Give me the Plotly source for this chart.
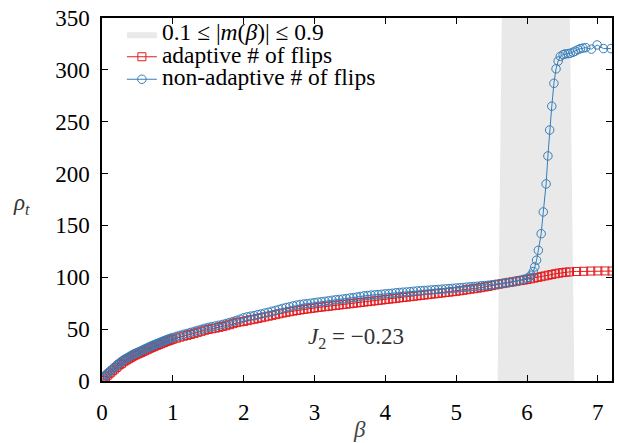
import plotly.graph_objects as go

# ---------------- data ----------------
beta_common = [
    0.0, 0.025, 0.05, 0.075, 0.1, 0.125, 0.15, 0.175, 0.2, 0.225,
    0.25, 0.275, 0.3, 0.325, 0.35, 0.375, 0.4, 0.425, 0.45, 0.475,
    0.5, 0.525, 0.55, 0.575, 0.6, 0.625, 0.65, 0.675, 0.7, 0.725,
    0.75, 0.775, 0.8, 0.825, 0.85, 0.875, 0.9, 0.925, 0.95, 0.975,
    1.0, 1.05, 1.1, 1.15, 1.2, 1.25, 1.3, 1.35, 1.4, 1.45,
    1.5, 1.55, 1.6, 1.65, 1.7, 1.75, 1.8, 1.85, 1.9, 1.95,
    2.0, 2.05, 2.1, 2.15, 2.2, 2.25, 2.3, 2.35, 2.4, 2.45,
    2.5, 2.55, 2.6, 2.65, 2.7, 2.75, 2.8, 2.85, 2.9, 2.95,
    3.0, 3.05, 3.1, 3.15, 3.2, 3.25, 3.3, 3.35, 3.4, 3.45,
    3.5, 3.55, 3.6, 3.65, 3.7, 3.75, 3.8, 3.85, 3.9, 3.95,
    4.0, 4.05, 4.1, 4.15, 4.2, 4.25, 4.3, 4.35, 4.4, 4.45,
    4.5, 4.55, 4.6, 4.65, 4.7, 4.75, 4.8, 4.85, 4.9, 4.95,
    5.0, 5.05, 5.1, 5.15, 5.2, 5.25, 5.3, 5.35, 5.4, 5.45,
    5.5, 5.55, 5.6, 5.65, 5.7, 5.75, 5.8, 5.85, 5.9, 5.95,
    6.0,
]

rho_nonadaptive_common = [
    1.5, 3.5, 5.5, 7.0, 8.5, 10.0, 11.5, 13.0, 14.5, 16.0,
    17.5, 18.5, 20.0, 21.0, 22.0, 23.0, 24.0, 25.0, 26.0, 26.8,
    27.5, 28.3, 29.1, 29.9, 30.7, 31.5, 32.3, 33.1, 33.9, 34.6,
    35.3, 36.0, 36.7, 37.4, 38.1, 38.8, 39.5, 40.1, 40.7, 41.3,
    41.9, 43.0, 44.0, 45.0, 45.8, 46.8, 47.8, 48.8, 49.8, 50.8,
    51.6, 52.4, 53.0, 53.7, 54.5, 55.4, 56.4, 57.4, 58.5, 59.6,
    61.0, 61.8, 62.5, 63.0, 64.0, 64.6, 65.5, 66.3, 67.2, 68.0,
    69.0, 70.0, 70.8, 71.5, 72.4, 73.2, 73.8, 74.2, 74.6, 75.0,
    75.5, 76.0, 76.4, 76.8, 77.3, 77.8, 78.3, 78.6, 79.0, 79.5,
    80.0, 80.4, 80.9, 81.5, 82.1, 82.4, 82.8, 83.0, 83.3, 83.6,
    84.0, 84.3, 84.6, 85.0, 85.3, 85.6, 85.8, 86.1, 86.5, 86.8,
    87.0, 87.3, 87.5, 87.8, 88.0, 88.3, 88.5, 88.8, 89.0, 89.3,
    89.6, 89.9, 90.2, 90.5, 90.8, 91.1, 91.4, 91.7, 92.0, 92.3,
    92.7, 93.1, 93.5, 94.0, 94.5, 95.0, 95.6, 96.3, 97.0, 98.0,
    99.0,
]

rho_adaptive_common = [
    0.5, 2.0, 4.0, 5.5, 7.0, 8.5, 10.0, 11.5, 13.0, 14.5,
    16.0, 17.0, 18.5, 19.5, 20.5, 21.5, 22.5, 23.5, 24.5, 25.3,
    26.0, 26.8, 27.6, 28.4, 29.2, 30.0, 30.8, 31.6, 32.4, 33.1,
    33.8, 34.5, 35.2, 35.9, 36.6, 37.3, 38.0, 38.6, 39.2, 39.8,
    40.4, 41.3, 42.3, 43.2, 44.0, 44.9, 45.9, 46.9, 47.9, 48.9,
    49.7, 50.4, 51.0, 51.7, 52.5, 53.3, 54.3, 55.3, 56.3, 57.0,
    57.5, 58.2, 59.0, 59.6, 60.4, 61.0, 61.8, 62.5, 63.3, 64.0,
    64.8, 65.5, 66.2, 66.8, 67.4, 68.0, 68.5, 69.0, 69.5, 70.0,
    70.4, 70.9, 71.3, 71.7, 72.1, 72.5, 72.9, 73.3, 73.7, 74.1,
    74.5, 74.9, 75.3, 75.7, 76.1, 76.5, 76.9, 77.3, 77.7, 78.1,
    78.5, 78.9, 79.3, 79.7, 80.1, 80.5, 80.9, 81.3, 81.7, 82.1,
    82.5, 82.9, 83.3, 83.7, 84.1, 84.5, 84.9, 85.3, 85.7, 86.1,
    86.5, 87.0, 87.5, 88.0, 88.5, 89.0, 89.5, 90.0, 90.6, 91.2,
    91.9, 92.6, 93.3, 93.9, 94.5, 95.1, 95.6, 96.2, 96.8, 97.3,
    97.8,
]

beta_nonadaptive_tail = [
    6.03, 6.06, 6.09, 6.11, 6.135, 6.16, 6.2, 6.23, 6.27, 6.295,
    6.32, 6.35, 6.38, 6.41, 6.44, 6.47, 6.51, 6.54, 6.58, 6.61,
    6.65, 6.68, 6.72, 6.755, 6.79, 6.83, 6.91, 6.99, 7.08, 7.185,
]
rho_nonadaptive_tail = [
    100.0, 102.0, 105.5, 110.0, 116.5, 126.0, 142.0, 163.0, 190.0, 217.0,
    242.0, 265.0, 287.0, 301.0, 308.5, 313.0, 314.7, 315.4, 315.6, 316.0,
    317.0, 318.0, 319.5, 320.5, 321.0, 321.4, 320.0, 324.0, 320.5, 320.5,
]

beta_adaptive_tail = [
    6.05, 6.1, 6.15, 6.2, 6.25, 6.3, 6.35, 6.4, 6.45, 6.5,
    6.55, 6.6, 6.7, 6.8, 6.9, 7.0, 7.1, 7.2,
]
rho_adaptive_tail = [
    98.5, 99.2, 99.9, 100.6, 101.3, 102.0, 102.7, 103.4, 104.0, 104.5,
    104.9, 105.2, 105.6, 105.8, 106.0, 106.1, 106.1, 106.0,
]

# shaded band 0.1 <= |m(beta)| <= 0.9 (corners of the band)
band_beta = [5.585, 6.668, 6.605, 5.645, 5.585]
band_rho = [0, 0, 350, 350, 0]

x_ticks = [0, 1, 2, 3, 4, 5, 6, 7]
y_ticks = [0, 50, 100, 150, 200, 250, 300, 350]

# ---------------- figure ----------------
FONT = "Liberation Serif"
BLUE = "#377eb8"
RED = "#e41a1c"
LEG = '<span style="font-size:23.5px">{}</span>'

fig = go.Figure()

fig.add_trace(go.Scatter(
    x=band_beta, y=band_rho, fill="toself", mode="lines",
    line=dict(width=0, color="#e9e9e9"), fillcolor="#e9e9e9",
    name=LEG.format("0.1 ≤ |<i>m</i>(<i>β</i>)| ≤ 0.9"), hoverinfo="skip",
))

fig.add_trace(go.Scatter(
    x=beta_common + beta_adaptive_tail,
    y=rho_adaptive_common + rho_adaptive_tail,
    mode="lines+markers",
    line=dict(color=RED, width=1),
    marker=dict(symbol="square-open", size=8, color=RED, line=dict(width=1, color=RED)),
    name=LEG.format("adaptive # of flips"),
))

fig.add_trace(go.Scatter(
    x=beta_common + beta_nonadaptive_tail,
    y=rho_nonadaptive_common + rho_nonadaptive_tail,
    mode="lines+markers",
    line=dict(color=BLUE, width=1),
    marker=dict(symbol="circle-open", size=8.5, color=BLUE, line=dict(width=1, color=BLUE)),
    name=LEG.format("non-adaptive # of flips"),
))

axis_common = dict(
    showgrid=False, zeroline=False, showline=True, linecolor="black", linewidth=1.5,
    mirror="allticks", ticks="inside", ticklen=6, tickwidth=1.2, tickcolor="black",
    tickfont=dict(family=FONT, size=23, color="black"),
)

fig.update_layout(
    width=618, height=443,
    margin=dict(l=102, r=4, t=18, b=62),
    paper_bgcolor="white", plot_bgcolor="white",
    font=dict(family=FONT, color="black"),
    xaxis=dict(range=[0, 7.2], tickvals=x_ticks, ticklabelstandoff=10, **axis_common),
    yaxis=dict(range=[0, 350], tickvals=y_ticks, ticklabelstandoff=6, **axis_common),
    showlegend=True,
    legend=dict(
        x=0.039, y=1.0, xanchor="left", yanchor="top",
        bgcolor="rgba(0,0,0,0)", font=dict(family=FONT, size=15, color="black"),
        itemwidth=30, tracegroupgap=0,
    ),
    annotations=[
        dict(text="<i>ρ</i><sub><i>t</i></sub>", xref="paper", yref="paper",
             x=-0.158, y=0.488, xanchor="center", yanchor="middle", showarrow=False,
             font=dict(family=FONT, size=23, color="#333333")),
        dict(text="<i>β</i>", xref="paper", yref="paper",
             x=0.505, y=-0.134, xanchor="center", yanchor="middle", showarrow=False,
             font=dict(family=FONT, size=23, color="#444444")),
        dict(text="<i>J</i><sub>2</sub> = −0.23", xref="x", yref="y",
             x=3.59, y=41.5, xanchor="center", yanchor="middle", showarrow=False,
             font=dict(family=FONT, size=23, color="#333333")),
    ],
)

fig.write_html("out.html", config={"displayModeBar": False},
               post_script="document.body.style.margin='0px';")
